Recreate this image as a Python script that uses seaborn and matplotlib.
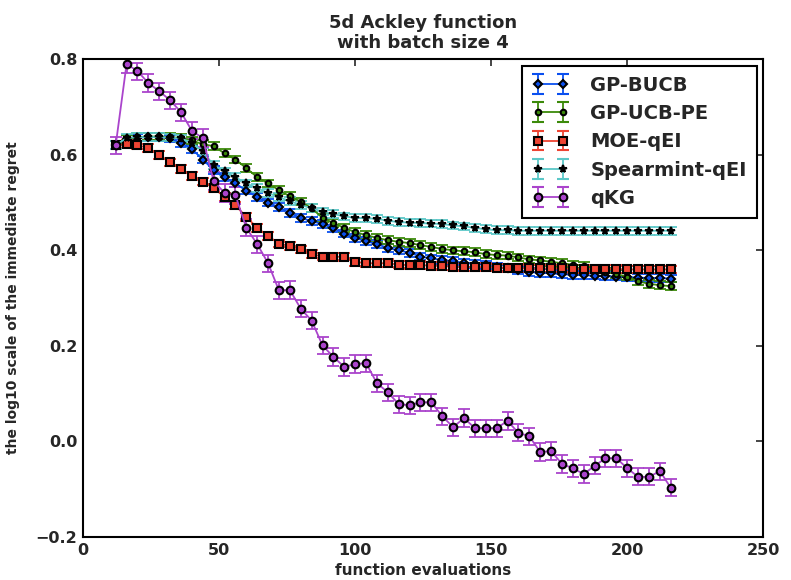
import numpy as np
import pandas as pd
import matplotlib
matplotlib.use("Agg")
import matplotlib.pyplot as plt
import seaborn as sns

evals = list(range(12, 217, 4))

gp_bucb = [0.62, 0.633, 0.636, 0.637, 0.637, 0.634, 0.625, 0.612, 0.59, 0.568,
           0.553, 0.54, 0.525, 0.511, 0.5, 0.49, 0.478, 0.468, 0.461, 0.455,
           0.446, 0.435, 0.426, 0.419, 0.413, 0.405, 0.4, 0.395, 0.387, 0.383,
           0.38, 0.377, 0.374, 0.372, 0.369, 0.365, 0.362, 0.358, 0.355, 0.353,
           0.352, 0.35, 0.349, 0.348, 0.347, 0.346, 0.345, 0.344, 0.343, 0.342,
           0.342, 0.341]
gp_ucb_pe = [0.62, 0.633, 0.637, 0.638, 0.638, 0.637, 0.635, 0.63, 0.622, 0.618,
             0.603, 0.59, 0.572, 0.553, 0.54, 0.526, 0.513, 0.502, 0.488, 0.468,
             0.457, 0.447, 0.438, 0.432, 0.426, 0.421, 0.418, 0.415, 0.411, 0.407,
             0.403, 0.4, 0.398, 0.396, 0.392, 0.39, 0.389, 0.385, 0.381, 0.379,
             0.376, 0.373, 0.37, 0.368, 0.36, 0.355, 0.35, 0.345, 0.335, 0.33,
             0.327, 0.325]
moe_qei = [0.62, 0.622, 0.62, 0.614, 0.6, 0.584, 0.57, 0.556, 0.544, 0.53,
           0.512, 0.494, 0.47, 0.447, 0.43, 0.414, 0.409, 0.402, 0.392, 0.387,
           0.386, 0.387, 0.376, 0.373, 0.373, 0.373, 0.37, 0.369, 0.369, 0.368,
           0.367, 0.366, 0.365, 0.365, 0.365, 0.364, 0.363, 0.363, 0.362, 0.362,
           0.362, 0.362, 0.361, 0.361, 0.361, 0.361, 0.361, 0.36, 0.36, 0.36,
           0.36, 0.36]
spearmint_qei = [0.62, 0.635, 0.637, 0.637, 0.637, 0.636, 0.634, 0.625, 0.607, 0.578,
                 0.565, 0.553, 0.54, 0.53, 0.52, 0.511, 0.503, 0.495, 0.488, 0.481,
                 0.476, 0.471, 0.468, 0.467, 0.466, 0.462, 0.459, 0.458, 0.457, 0.456,
                 0.455, 0.452, 0.45, 0.447, 0.444, 0.442, 0.442, 0.441, 0.441, 0.441,
                 0.441, 0.441, 0.441, 0.441, 0.441, 0.441, 0.441, 0.441, 0.441, 0.441,
                 0.441, 0.441]
qkg = [0.62, 0.79, 0.775, 0.75, 0.733, 0.714, 0.689, 0.65, 0.635, 0.545,
       0.52, 0.515, 0.447, 0.413, 0.373, 0.316, 0.317, 0.278, 0.253, 0.201,
       0.177, 0.156, 0.162, 0.164, 0.122, 0.103, 0.078, 0.076, 0.082, 0.082,
       0.053, 0.030, 0.049, 0.028, 0.028, 0.028, 0.043, 0.018, 0.011, -0.022,
       -0.02, -0.047, -0.056, -0.068, -0.051, -0.035, -0.035, -0.056, -0.074, -0.074,
       -0.062, -0.097]

err_small = 0.008
err_qkg = 0.018

names = ["GP-BUCB", "GP-UCB-PE", "MOE-qEI", "Spearmint-qEI", "qKG"]
series = [gp_bucb, gp_ucb_pe, moe_qei, spearmint_qei, qkg]
errors = [err_small, err_small, err_small, err_small, err_qkg]
colors = ["#0a4ff0", "#3c8a0a", "#ee4433", "#5cc8c8", "#aa44cc"]
markers = ["D", "o", "s", "*", "o"]
msizes = [4.5, 4, 5.5, 5.5, 5.5]

sns.set_style("white")
plt.rcParams.update({
    "font.family": ["DejaVu Sans"],
    "font.weight": "bold",
    "xtick.direction": "in",
    "ytick.direction": "in",
    "xtick.top": True,
    "ytick.right": True,
    "xtick.major.size": 5,
    "ytick.major.size": 5,
    "axes.edgecolor": "black",
    "axes.linewidth": 1.5,
})

rows = []
for n, s in zip(names, series):
    for xv, yv in zip(evals, s):
        rows.append({"evals": xv, "value": yv, "method": n})
df = pd.DataFrame(rows)

fig = plt.figure(figsize=(7.91, 5.80), dpi=100)
ax = fig.add_axes([0.105, 0.074, 0.860, 0.824])

handles = []
for n, s, e, c, m, ms in zip(names, series, errors, colors, markers, msizes):
    sub = df[df["method"] == n]
    ax.errorbar(sub["evals"], sub["value"], yerr=e, fmt="none", ecolor=c,
                elinewidth=1.3, capsize=4.5, capthick=1.3, zorder=2)
    sns.lineplot(data=sub, x="evals", y="value", ax=ax, color=c, marker=m,
                 markersize=ms, markeredgecolor="black", markeredgewidth=1.5,
                 markerfacecolor=c, linewidth=1.3, legend=False, zorder=3)
    h = ax.errorbar([np.nan], [np.nan], yerr=[0.01], fmt=m + "-", color=c,
                    markersize=ms, markeredgecolor="black", markeredgewidth=1.5,
                    markerfacecolor=c, elinewidth=1.3, capsize=4.5, capthick=1.3,
                    linewidth=1.3, label=n)
    handles.append(h)

ax.set_xlim(0, 250)
ax.set_ylim(-0.2, 0.8)
ax.set_xticks([0, 50, 100, 150, 200, 250])
ax.set_yticks([-0.2, 0.0, 0.2, 0.4, 0.6, 0.8])
ax.set_yticklabels(["\u22120.2", "0.0", "0.2", "0.4", "0.6", "0.8"])
ax.tick_params(labelsize=11.5, width=1.2, pad=4)
for lab in ax.get_xticklabels() + ax.get_yticklabels():
    lab.set_fontweight("bold")

ax.set_xlabel("function evaluations", fontsize=11, fontweight="bold", labelpad=4)
ax.set_ylabel("the log10 scale of the immediate regret", fontsize=10,
              fontweight="bold", labelpad=11)
ax.set_title("5d Ackley function\nwith batch size 4", fontsize=13,
             fontweight="bold", pad=8, linespacing=1.15)

leg = ax.legend(handles=handles, labels=names, loc="upper right", numpoints=2,
                frameon=True, fancybox=False, framealpha=1,
                edgecolor="black", labelspacing=0.48, handlelength=1.9,
                handletextpad=1.1, borderaxespad=0.35, borderpad=0.5,
                prop={"weight": "bold", "size": 14})
leg.get_frame().set_linewidth(1.5)

fig.savefig("out.png", dpi=100)
